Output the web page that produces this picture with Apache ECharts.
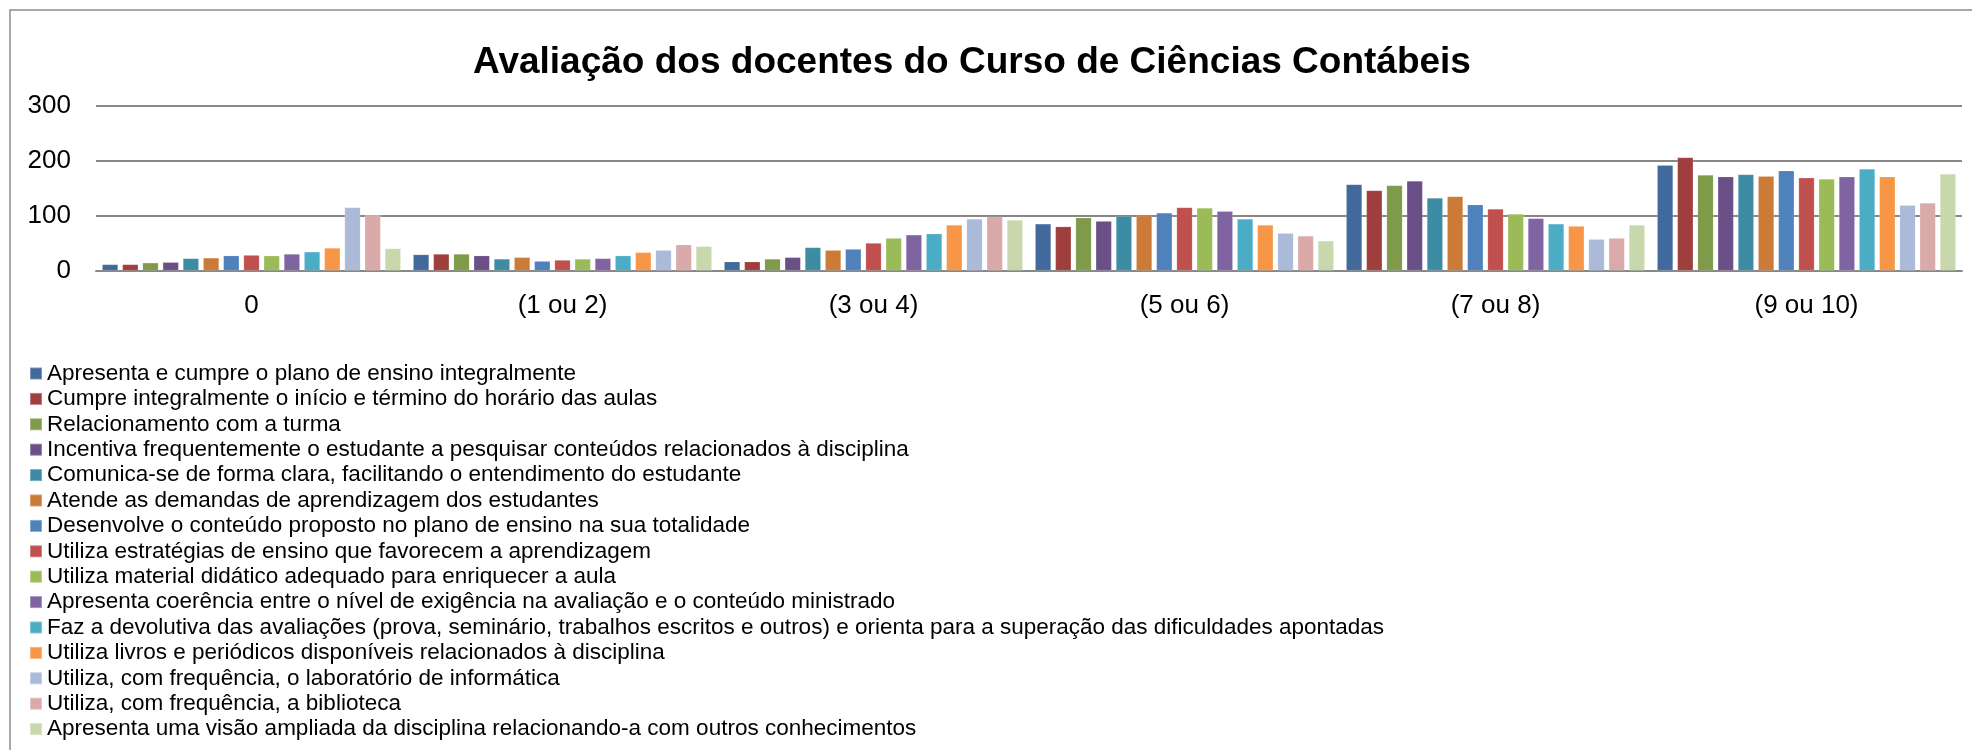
<!DOCTYPE html>
<html>
<head>
<meta charset="utf-8">
<script src="https://cdn.jsdelivr.net/npm/echarts@6/dist/echarts.min.js"></script>
<style>
  html, body { margin: 0; padding: 0; background: #fff; }
  #chart { width: 1972px; height: 750px; }
</style>
</head>
<body>
<div id="chart"></div>
<script>
// categorias (notas)
const categories = ['0', '(1 ou 2)', '(3 ou 4)', '(5 ou 6)', '(7 ou 8)', '(9 ou 10)']
const yTicks = [0, 100, 200, 300]

// quesitos avaliados
const itemNames = [
  'Apresenta e cumpre o plano de ensino integralmente',
  'Cumpre integralmente o início e término do horário das aulas',
  'Relacionamento com a turma',
  'Incentiva frequentemente o estudante a pesquisar conteúdos relacionados à disciplina',
  'Comunica-se de forma clara, facilitando o entendimento do estudante',
  'Atende as demandas de aprendizagem dos estudantes',
  'Desenvolve o conteúdo proposto no plano de ensino na sua totalidade',
  'Utiliza estratégias de ensino que favorecem a aprendizagem',
  'Utiliza material didático adequado para enriquecer a aula',
  'Apresenta coerência entre o nível de exigência na avaliação e o conteúdo ministrado',
  'Faz a devolutiva das avaliações (prova, seminário, trabalhos escritos e outros) e orienta para a superação das dificuldades apontadas',
  'Utiliza livros e periódicos disponíveis relacionados à disciplina',
  'Utiliza, com frequência, o laboratório de informática',
  'Utiliza, com frequência, a biblioteca',
  'Apresenta uma visão ampliada da disciplina relacionando-a com outros conhecimentos'
]

// respostas por quesito (uma posição por categoria)
const planoEnsino = [11, 29, 16, 85, 157, 192]
const horarioAulas = [11, 30, 16, 80, 146, 206]
const relacionamento = [14, 30, 21, 96, 155, 174]
const incentivaPesquisa = [15, 27, 24, 90, 163, 171]
const comunicaClara = [22, 21, 42, 99, 132, 175]
const atendeDemandas = [23, 24, 37, 100, 135, 172]
const desenvolveConteudo = [27, 17, 39, 105, 120, 182]
const estrategias = [28, 19, 50, 115, 112, 169]
const materialDidatico = [27, 21, 59, 114, 103, 167]
const coerencia = [30, 22, 65, 108, 95, 171]
const devolutiva = [34, 27, 67, 94, 85, 185]
const livrosPeriodicos = [41, 33, 83, 83, 81, 171]
const laboratorio = [115, 37, 94, 68, 57, 119]
const biblioteca = [101, 47, 98, 63, 59, 123]
const visaoAmpliada = [40, 44, 92, 54, 83, 176]

const seriesValues = [
  planoEnsino, horarioAulas, relacionamento, incentivaPesquisa, comunicaClara,
  atendeDemandas, desenvolveConteudo, estrategias, materialDidatico, coerencia,
  devolutiva, livrosPeriodicos, laboratorio, biblioteca, visaoAmpliada
]

// paleta estilo Excel
const palette = [
  '#41699B', '#9E3F3D', '#7F9A48', '#6A5087', '#3D8CA4', '#CB7A38',
  '#4F81BD', '#C0504D', '#9BBB59', '#8064A2', '#4BACC6', '#F79646',
  '#AABAD8', '#D9AAA9', '#C9D7AD'
]

const font = '"Liberation Sans", Arial, sans-serif'
const myChart = echarts.init(document.getElementById('chart'))

const option = {
  animation: false,
  color: palette,
  textStyle: { fontFamily: font },
  title: {
    text: 'Avaliação dos docentes do Curso de Ciências Contábeis',
    left: 967,
    top: 39,
    textAlign: 'center',
    textStyle: { fontFamily: font, fontSize: 37, fontWeight: 'bold', color: '#000' }
  },
  graphic: [
    {
      type: 'rect',
      shape: { x: 10, y: 10, width: 2000, height: 800 },
      style: { fill: 'none', stroke: '#8c8c8c', lineWidth: 1.5 },
      silent: true
    }
  ],
  legend: {
    orient: 'vertical',
    left: 29,
    top: 361,
    padding: 0,
    itemWidth: 12,
    itemHeight: 12,
    itemGap: 0.4,
    icon: 'rect',
    textStyle: { fontFamily: font, fontSize: 22.5, color: '#000', lineHeight: 25 },
    data: itemNames
  },
  grid: {
    left: 96,
    right: 10,
    top: 106,
    height: 164.5,
    containLabel: false
  },
  xAxis: {
    type: 'category',
    data: categories,
    axisTick: { show: false },
    axisLine: { lineStyle: { color: '#888', width: 2 } },
    axisLabel: { fontFamily: font, fontSize: 26, color: '#000', margin: 22 }
  },
  yAxis: {
    type: 'value',
    min: yTicks[0],
    max: yTicks[yTicks.length - 1],
    interval: yTicks[1] - yTicks[0],
    axisLine: { show: false },
    axisTick: { show: false },
    axisLabel: { fontFamily: font, fontSize: 26, color: '#000', margin: 25 },
    splitLine: { lineStyle: { color: '#888', width: 2 } }
  },
  series: seriesValues.map((values, i) => ({
    name: itemNames[i],
    type: 'bar',
    barGap: '28%',
    barCategoryGap: '4%',
    itemStyle: { borderColor: 'rgba(255,255,255,0.3)', borderWidth: 0.5 },
    data: values
  }))
}
myChart.setOption(option)
</script>
</body>
</html>
